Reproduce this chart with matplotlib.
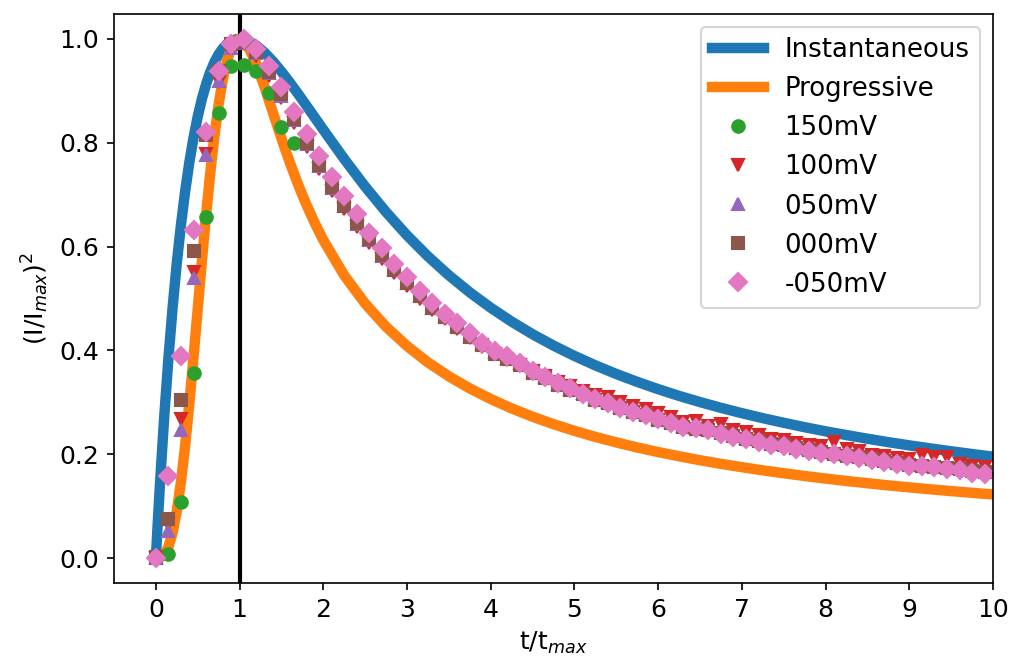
import matplotlib
matplotlib.use("Agg")
import matplotlib.pyplot as plt

# Theoretical Scharifker-Hills curves
t_theory = [0.0, 0.02, 0.05, 0.1, 0.15, 0.2, 0.25, 0.3, 0.35, 0.4, 0.45, 0.5,
            0.55, 0.6, 0.65, 0.7, 0.75, 0.8, 0.85, 0.9, 0.95, 1.0, 1.05, 1.1,
            1.2, 1.3, 1.4, 1.5, 1.6, 1.7, 1.8, 1.9, 2.0, 2.25, 2.5, 2.75, 3.0,
            3.25, 3.5, 3.75, 4.0, 4.25, 4.5, 4.75, 5.0, 5.25, 5.5, 5.75, 6.0,
            6.25, 6.5, 6.75, 7.0, 7.25, 7.5, 7.75, 8.0, 8.25, 8.5, 8.75, 9.0,
            9.25, 9.5, 9.75, 10.0]
instantaneous = [0.0, 0.0602, 0.1449, 0.2724, 0.3844, 0.4825, 0.5681, 0.6421,
                 0.7065, 0.7624, 0.8099, 0.8503, 0.8844, 0.9128, 0.9364, 0.9553,
                 0.9704, 0.9819, 0.9903, 0.9959, 0.9990, 1.0000, 0.9990, 0.9965,
                 0.9872, 0.9735, 0.9565, 0.9371, 0.9161, 0.8940, 0.8712, 0.8482,
                 0.8252, 0.7688, 0.7156, 0.6665, 0.6217,
                 0.5812, 0.5447, 0.5118, 0.4822, 0.4554, 0.4312, 0.4093, 0.3894,
                 0.3712, 0.3546, 0.3394, 0.3254, 0.3124, 0.3005, 0.2894, 0.2791,
                 0.2695, 0.2606, 0.2521, 0.2442, 0.2369, 0.2299, 0.2233, 0.2171,
                 0.2113, 0.2057, 0.2004, 0.1954]
progressive = [0.0, 0.0001, 0.0008, 0.0065, 0.0214, 0.0488, 0.0905, 0.1470,
               0.2169, 0.2980, 0.3870, 0.4797, 0.5723, 0.6608, 0.7421, 0.8137,
               0.8739, 0.9220, 0.9580, 0.9822, 0.9958, 1.0000, 0.9963, 0.9861,
               0.9518, 0.9066, 0.8574, 0.8084, 0.7620, 0.7191, 0.6801, 0.6447,
               0.6126, 0.5446, 0.4902, 0.4456, 0.4085,
               0.3770, 0.3501, 0.3268, 0.3064, 0.2883, 0.2723, 0.2580, 0.2451,
               0.2334, 0.2228, 0.2131, 0.2042, 0.1961, 0.1885, 0.1815, 0.1751,
               0.1690, 0.1634, 0.1581, 0.1532, 0.1485, 0.1442, 0.1400, 0.1362,
               0.1325, 0.1290, 0.1257, 0.1225]

# Measured transients, normalised time
t_exp = [0.00, 0.15, 0.30, 0.45, 0.60, 0.75, 0.90, 1.05, 1.20, 1.35, 1.50,
         1.65, 1.80, 1.95, 2.10, 2.25, 2.40, 2.55, 2.70, 2.85, 3.00, 3.15,
         3.30, 3.45, 3.60, 3.75, 3.90, 4.05, 4.20, 4.35, 4.50, 4.65, 4.80,
         4.95, 5.10, 5.25, 5.40, 5.55, 5.70, 5.85, 6.00, 6.15, 6.30, 6.45,
         6.60, 6.75, 6.90, 7.05, 7.20, 7.35, 7.50, 7.65, 7.80, 7.95, 8.10,
         8.25, 8.40, 8.55, 8.70, 8.85, 9.00, 9.15, 9.30, 9.45, 9.60, 9.75,
         9.90]

mv150 = [0.0, 0.008, 0.108, 0.357, 0.657, 0.857, 0.948, 0.949, 0.939, 0.895,
         0.830, 0.800]

mv100 = [0.0, 0.066, 0.267, 0.552, 0.779, 0.917, 0.983, 0.990, 0.968, 0.929,
         0.886, 0.838, 0.792, 0.749, 0.708, 0.672, 0.638, 0.606, 0.576, 0.549,
         0.524, 0.500, 0.477, 0.460, 0.442, 0.423, 0.407, 0.393, 0.382, 0.372,
         0.360, 0.350, 0.340, 0.331, 0.322, 0.314, 0.310, 0.300, 0.292, 0.288,
         0.279, 0.272, 0.263, 0.264, 0.255, 0.258, 0.247, 0.242, 0.237, 0.230,
         0.228, 0.222, 0.218, 0.215, 0.224, 0.210, 0.206, 0.198, 0.197, 0.193,
         0.190, 0.198, 0.194, 0.194, 0.182, 0.178, 0.176]

mv050 = [0.0, 0.052, 0.246, 0.540, 0.777, 0.919, 0.983, 0.992, 0.972, 0.934,
         0.891, 0.844, 0.798, 0.755, 0.713, 0.678, 0.644, 0.613, 0.582, 0.554,
         0.530, 0.505, 0.482, 0.466, 0.447, 0.428, 0.412, 0.396, 0.386, 0.375,
         0.359, 0.348, 0.335, 0.326, 0.318, 0.307, 0.300, 0.291, 0.283, 0.277,
         0.268, 0.262, 0.255, 0.251, 0.248, 0.242, 0.237, 0.232, 0.227, 0.222,
         0.219, 0.214, 0.210, 0.206, 0.203, 0.199, 0.196, 0.192, 0.189, 0.185,
         0.182, 0.180, 0.178, 0.176, 0.173, 0.169, 0.167]

mv000 = [0.003, 0.076, 0.305, 0.592, 0.814, 0.939, 0.990, 0.995, 0.974, 0.936,
         0.893, 0.846, 0.800, 0.757, 0.715, 0.679, 0.645, 0.614, 0.583, 0.555,
         0.530, 0.504, 0.481, 0.465, 0.446, 0.426, 0.410, 0.394, 0.383, 0.372,
         0.357, 0.346, 0.333, 0.324, 0.316, 0.305, 0.298, 0.289, 0.281, 0.275,
         0.266, 0.260, 0.253, 0.249, 0.246, 0.240, 0.235, 0.230, 0.225, 0.220,
         0.217, 0.212, 0.208, 0.204, 0.201, 0.197, 0.194, 0.190, 0.187, 0.183,
         0.180, 0.178, 0.176, 0.174, 0.171, 0.167, 0.165]

mvm050 = [0.0, 0.159, 0.390, 0.631, 0.821, 0.938, 0.990, 0.999, 0.981, 0.948,
          0.907, 0.860, 0.817, 0.774, 0.734, 0.697, 0.662, 0.626, 0.597, 0.566,
          0.541, 0.515, 0.492, 0.471, 0.452, 0.434, 0.415, 0.399, 0.389, 0.376,
          0.361, 0.349, 0.338, 0.327, 0.317, 0.306, 0.299, 0.290, 0.282, 0.276,
          0.267, 0.261, 0.253, 0.250, 0.247, 0.239, 0.234, 0.229, 0.224, 0.218,
          0.216, 0.211, 0.207, 0.202, 0.200, 0.196, 0.192, 0.188, 0.185, 0.181,
          0.178, 0.177, 0.175, 0.172, 0.169, 0.164, 0.162]


def main():
    fig = plt.figure(figsize=(1018 / 150, 666 / 150), dpi=150)
    ax = fig.add_axes([114 / 1018, 83 / 666, 879 / 1018, 569 / 666])

    ax.plot(t_theory, instantaneous, color="C0", linewidth=5, label="Instantaneous")
    ax.plot(t_theory, progressive, color="C1", linewidth=5, label="Progressive")
    ax.axvline(1, color="k", linewidth=2)

    ax.plot(t_exp[:len(mv150)], mv150, "o", color="C2", label="150mV")
    ax.plot(t_exp, mv100, "v", color="C3", label="100mV")
    ax.plot(t_exp, mv050, "^", color="C4", label="050mV")
    ax.plot(t_exp, mv000, "s", color="C5", label="000mV")
    ax.plot(t_exp, mvm050, "D", color="C6", label="-050mV")

    ax.set_xlim(-0.5, 10)
    ax.set_ylim(-0.048, 1.048)
    ax.set_xticks(range(0, 11))
    ax.tick_params(labelsize=12)
    ax.set_xlabel("t/t$_{max}$", fontsize=12)
    ax.set_ylabel("(I/I$_{max}$)$^2$", fontsize=12)
    ax.legend(loc="upper right", fontsize=12.5)

    fig.savefig("out.png", dpi=150)
    plt.close(fig)


if __name__ == "__main__":
    main()
